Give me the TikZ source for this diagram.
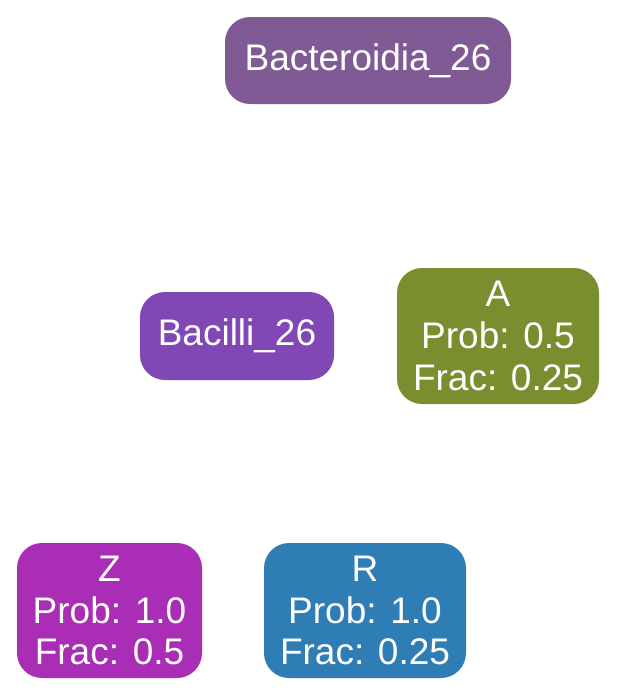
\documentclass[tikz,border=0pt]{standalone}
\usepackage{fontspec}
\setmainfont{Liberation Sans}
\definecolor{cBact}{HTML}{7F5A94}
\definecolor{cBaci}{HTML}{8147B5}
\definecolor{cA}{HTML}{798F2F}
\definecolor{cZ}{HTML}{A92DB5}
\definecolor{cR}{HTML}{2E7EB5}
\begin{document}
\begin{tikzpicture}[x=1pt,y=-1pt,
  box/.style={rounded corners=25pt, text=white, align=center, inner sep=0pt,
    font=\fontsize{37}{41.7}\selectfont}]
\useasboundingbox (0,0) rectangle (617,696);
\node[box, fill=cBact, minimum width=286pt, minimum height=87pt] (bact) at (368,60.5) {Bacteroidia\_26};
\node[box, fill=cBaci, minimum width=194pt, minimum height=88pt] (baci) at (237,336) {Bacilli\_26};
\node[box, fill=cA, minimum width=202pt, minimum height=136pt] (a) at (498,336) {A\\Prob: 0.5\\Frac: 0.25};
\node[box, fill=cZ, minimum width=185pt, minimum height=135pt] (z) at (109.5,610.5) {Z\\Prob: 1.0\\Frac: 0.5};
\node[box, fill=cR, minimum width=202pt, minimum height=135pt] (r) at (365,610.5) {R\\Prob: 1.0\\Frac: 0.25};
\end{tikzpicture}
\end{document}
